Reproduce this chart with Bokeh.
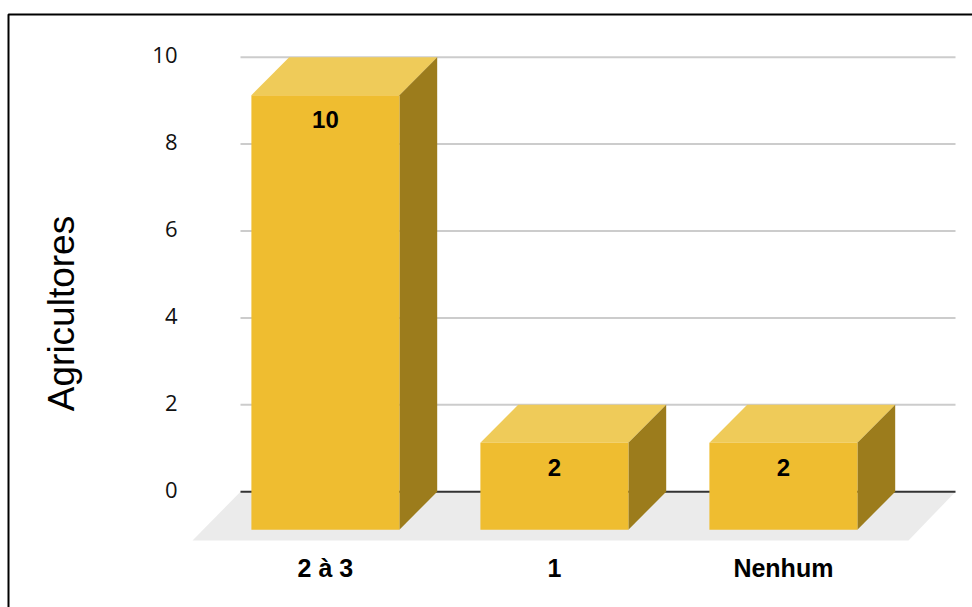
from bokeh.plotting import figure
from bokeh.models import FixedTicker, Label, ColumnDataSource
from bokeh.core.properties import value
from bokeh.embed import file_html
from bokeh.resources import INLINE

# Chart data
categories = ["2 à 3", "1", "Nenhum"]
farmers = [10, 2, 2]
y_ticks = [0, 2, 4, 6, 8, 10]
y_title = "Agricultores"

# Page geometry and scale of the plotting area
W, H = 972, 607
PX_Y = 43.45         # pixels per farmer
PX_X = 229.0         # pixels between neighbouring bars
X0_PX, Y0_PX = 324.9, 491.2   # pixel position of category 0 (front face) and of y = 0
BAR_W = 148 / PX_X
DX = 37.8 / PX_X     # depth of the 3D extrusion
DY = 38 / PX_Y


def sx(px):
    return (px - X0_PX) / PX_X


def sy(px):
    return (Y0_PX - px) / PX_Y


FRONT, TOP, SIDE = "#efbd30", "#efcb59", "#9c7c1c"

p = figure(width=W, height=H, output_backend="svg", toolbar_location=None,
           x_range=(sx(0), sx(W)), y_range=(sy(H), sy(0)),
           min_border=0, outline_line_color=None, background_fill_color="white")
p.xgrid.visible = False
p.ygrid.visible = False
p.yaxis.visible = False

# Panel frame along the top and left
p.line([sx(8), sx(8), sx(W)], [sy(H), sy(14), sy(14)], line_color="#000000", line_width=2)

# Value gridlines
grid_l, grid_r = sx(240), sx(955)
grid_ticks = [t for t in y_ticks if t != 0]
p.segment([grid_l] * len(grid_ticks), grid_ticks, [grid_r] * len(grid_ticks), grid_ticks,
          line_color="#cccccc", line_width=2)

# Floor of the 3D plot, then the baseline on its back edge
floor_y = sy(540)
p.patch([sx(192), grid_l, grid_r, sx(908)], [floor_y, 0, 0, floor_y],
        fill_color="#ebebeb", line_color=None)
p.segment([grid_l], [0], [grid_r], [0], line_color="#333333", line_width=2)

# Extruded bars: top, side and front faces
for i, v in enumerate(farmers):
    l, r = i - BAR_W / 2, i + BAR_W / 2
    p.patch([l, l + DX, r + DX, r], [v - DY, v, v, v - DY], fill_color=TOP, line_color=None)
    p.patch([r, r + DX, r + DX, r], [v - DY, v, 0, -DY], fill_color=SIDE, line_color=None)
    p.patch([l, r, r, l], [-DY, -DY, v - DY, v - DY], fill_color=FRONT, line_color=None)

# Value labels on the front faces
labels = ColumnDataSource(dict(x=list(range(len(farmers))),
                               y=[v - DY - 24.5 / PX_Y for v in farmers],
                               t=[str(v) for v in farmers]))
p.text("x", "y", text="t", source=labels, text_align="center", text_baseline="middle",
       text_font=value("Liberation Sans"), text_font_style="bold", text_font_size="24px",
       text_color="#000000")

# Tick labels of the value axis, sitting slightly above their gridlines
tick_src = ColumnDataSource(dict(x=[sx(177)] * len(y_ticks), y=y_ticks,
                                 t=[str(t) for t in y_ticks]))
p.text("x", "y", text="t", source=tick_src, text_align="right", text_baseline="middle",
       y_offset=-2, text_font=value("Open Sans"), text_font_size="22px", text_color="#111111")

# Category axis, fixed inside the frame below the floor
xa = p.xaxis[0]
xa.fixed_location = sy(545.5)
xa.ticker = FixedTicker(ticks=list(range(len(categories))))
xa.major_label_overrides = {i: c for i, c in enumerate(categories)}
xa.axis_line_color = None
xa.major_tick_line_color = None
xa.minor_tick_line_color = None
xa.major_label_standoff = 2
xa.major_label_text_font = "Liberation Sans"
xa.major_label_text_font_style = "bold"
xa.major_label_text_font_size = "25px"
xa.major_label_text_color = "#000000"

# Vertical axis title
p.add_layout(Label(x=61, y=H - 313, x_units="screen", y_units="screen", text=y_title,
                   angle=90, angle_units="deg", text_align="center", text_baseline="middle",
                   text_font="Liberation Sans", text_font_size="37px", text_color="#000000"))

open("out.html", "w").write(file_html(p, INLINE))
